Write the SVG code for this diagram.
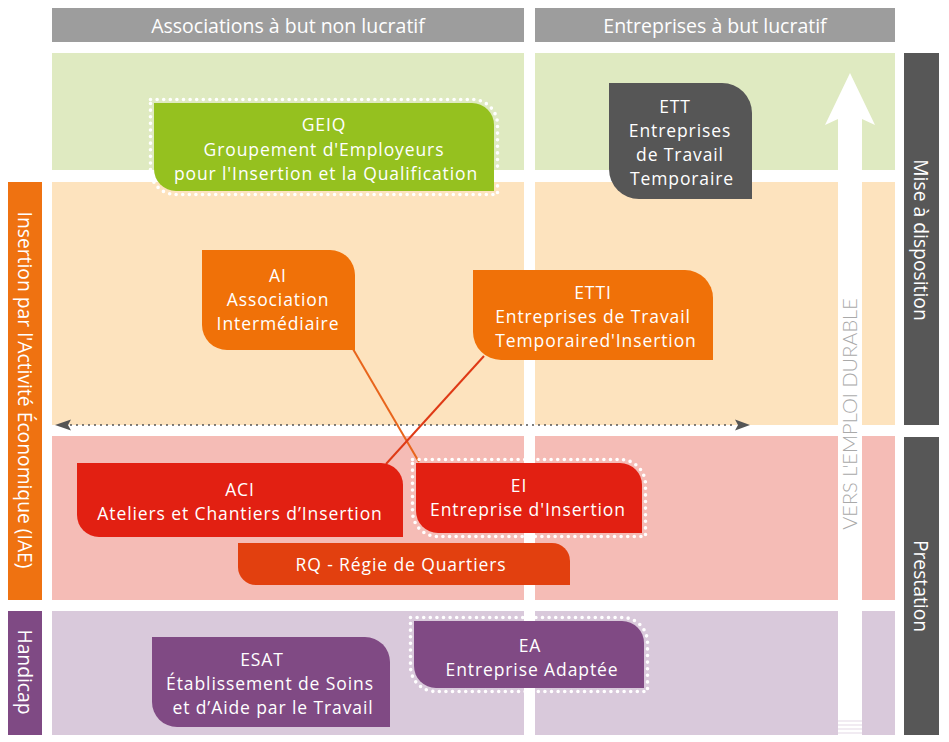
<svg xmlns="http://www.w3.org/2000/svg" width="949" height="742" viewBox="0 0 949 742">
<style>
text{font-family:"Open Sans","Noto Sans","DejaVu Sans",sans-serif;fill:#fff;text-anchor:middle}
.t{font-size:17.5px;letter-spacing:0.9px}
.h{font-size:19.5px}
.s{font-size:19.3px}
.dots{fill:none;stroke:#fff;stroke-width:3.6;stroke-dasharray:0 6.6;stroke-linecap:round}
.vert{font-family:"Lato","Open Sans",sans-serif;font-weight:300;font-size:20px;fill:#a9a9a9}
</style>
<rect width="949" height="742" fill="#fff"/>
<g id="bands">
<rect x="52" y="53" width="472" height="117" fill="#dfeac1"/>
<rect x="535" y="53" width="360" height="117" fill="#dfeac1"/>
<rect x="52" y="182" width="472" height="243" fill="#fde3be"/>
<rect x="535" y="182" width="360" height="243" fill="#fde3be"/>
<rect x="52" y="436" width="472" height="164" fill="#f5bcb6"/>
<rect x="535" y="436" width="360" height="164" fill="#f5bcb6"/>
<rect x="52" y="611" width="472" height="124" fill="#d9c9db"/>
<rect x="535" y="611" width="360" height="124" fill="#d9c9db"/>
</g>
<g id="headers">
<rect x="52" y="8" width="472" height="34" fill="#9d9d9d"/>
<text class="h" x="288" y="33">Associations à but non lucratif</text>
<rect x="535" y="8" width="360" height="34" fill="#9d9d9d"/>
<text class="h" x="715" y="33">Entreprises à but lucratif</text>
</g>
<g id="side-left">
<rect x="8" y="182" width="34" height="418" fill="#ef7211"/>
<text class="s" transform="translate(25,390) rotate(90)" y="7">Insertion par l'Activité Économique (IAE)</text>
<rect x="8" y="611" width="34" height="124" fill="#7f4a84"/>
<text class="s" transform="translate(25,672) rotate(90)" y="7">Handicap</text>
</g>
<g id="side-right">
<rect x="904" y="53" width="35" height="372" fill="#575757"/>
<text class="s" transform="translate(921,240) rotate(90)" y="7">Mise à disposition</text>
<rect x="904" y="437" width="35" height="298" fill="#575757"/>
<text class="s" transform="translate(921,586) rotate(90)" y="7">Prestation</text>
</g>
<g id="arrow-emploi">
<polygon points="850,73 875,125 862,119 862,735 838,735 838,119 825,125" fill="#fff"/>
<g stroke="#e3d7e5" stroke-width="1">
<line x1="838" y1="721" x2="862" y2="721"/>
<line x1="838" y1="725" x2="862" y2="725"/>
<line x1="838" y1="729" x2="862" y2="729"/>
<line x1="838" y1="733" x2="862" y2="733"/>
</g>
<text class="vert" transform="translate(850,414) rotate(-90)" y="7">VERS L'EMPLOI DURABLE</text>
</g>
<g id="connectors">
<line x1="71" y1="425" x2="735" y2="425" stroke="#555" stroke-width="2" stroke-dasharray="0 6" stroke-linecap="round"/>
<polygon points="55,425 71,419.5 68,425 71,430.5" fill="#555"/>
<polygon points="750,425 735,419.5 738,425 735,430.5" fill="#555"/>
<line x1="353" y1="349" x2="419" y2="462" stroke="#e8651c" stroke-width="2"/>
<line x1="484" y1="356" x2="386" y2="464" stroke="#df3a16" stroke-width="2"/>
</g>
<g id="GEIQ">
<path d="M154,103 H472 A22,22 0 0 1 494,125 V191 H176 A22,22 0 0 1 154,169 Z" fill="#95c11f"/>
<path class="dots" d="M150.5,99.5 H472.5 A25,25 0 0 1 497.5,124.5 V194.5 H175.5 A25,25 0 0 1 150.5,169.5 Z"/>
<text class="t"><tspan x="324" y="131">GEIQ</tspan><tspan x="324" y="155.5">Groupement d'Employeurs</tspan><tspan x="326" y="180">pour l'Insertion et la Qualification</tspan></text>
</g>
<g id="ETT">
<path d="M609,83 H722 A30,30 0 0 1 752,113 V199 H639 A30,30 0 0 1 609,169 Z" fill="#565656"/>
<text class="t"><tspan x="675" y="113">ETT</tspan><tspan x="680" y="137">Entreprises</tspan><tspan x="680" y="161">de Travail</tspan><tspan x="682" y="185">Temporaire</tspan></text>
</g>
<g id="AI">
<path d="M202,250 H330 A25,25 0 0 1 355,275 V350 H227 A25,25 0 0 1 202,325 Z" fill="#f07108"/>
<text class="t"><tspan x="278" y="282">AI</tspan><tspan x="278" y="306">Association</tspan><tspan x="278" y="330">Intermédiaire</tspan></text>
</g>
<g id="ETTI">
<path d="M473,270 H685 A28,28 0 0 1 713,298 V360 H501 A28,28 0 0 1 473,332 Z" fill="#f07108"/>
<text class="t"><tspan x="593" y="299">ETTI</tspan><tspan x="593" y="323">Entreprises de Travail</tspan><tspan x="596" y="347">Temporaired'Insertion</tspan></text>
</g>
<g id="ACI">
<path d="M77,463 H381 A22,22 0 0 1 403,485 V537 H99 A22,22 0 0 1 77,515 Z" fill="#e22012"/>
<text class="t"><tspan x="240" y="496">ACI</tspan><tspan x="240" y="520">Ateliers et Chantiers d’Insertion</tspan></text>
</g>
<g id="EI">
<path d="M416,463 H620 A22,22 0 0 1 642,485 V533 H438 A22,22 0 0 1 416,511 Z" fill="#e22012"/>
<path class="dots" d="M412.5,459.5 H620.5 A25,25 0 0 1 645.5,484.5 V536.5 H437.5 A25,25 0 0 1 412.5,511.5 Z"/>
<text class="t"><tspan x="519" y="492">EI</tspan><tspan x="528" y="516">Entreprise d'Insertion</tspan></text>
</g>
<g id="RQ">
<path d="M238,543 H552 A18,18 0 0 1 570,561 V585 H256 A18,18 0 0 1 238,567 Z" fill="#e2400f"/>
<text class="t" x="401" y="571">RQ - Régie de Quartiers</text>
</g>
<g id="ESAT">
<path d="M152,637 H365 A25,25 0 0 1 390,662 V727 H177 A25,25 0 0 1 152,702 Z" fill="#804a84"/>
<text class="t"><tspan x="262" y="666">ESAT</tspan><tspan x="270" y="690">Établissement de Soins</tspan><tspan x="273" y="714">et d’Aide par le Travail</tspan></text>
</g>
<g id="EA">
<path d="M414,621 H622 A22,22 0 0 1 644,643 V688 H436 A22,22 0 0 1 414,666 Z" fill="#804a84"/>
<path class="dots" d="M410.5,617.5 H622.5 A25,25 0 0 1 647.5,642.5 V691.5 H435.5 A25,25 0 0 1 410.5,666.5 Z"/>
<text class="t"><tspan x="530" y="652">EA</tspan><tspan x="532" y="676">Entreprise Adaptée</tspan></text>
</g>
</svg>
